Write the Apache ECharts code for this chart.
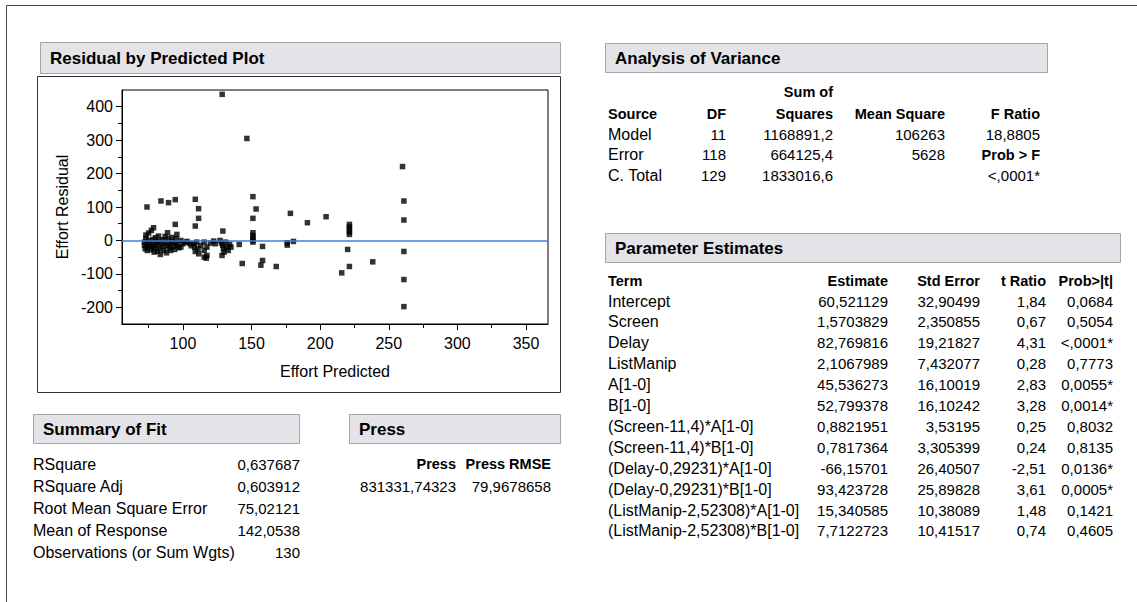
<!DOCTYPE html>
<html>
<head>
<meta charset="utf-8">
<script src="https://cdn.jsdelivr.net/npm/echarts@6/dist/echarts.min.js"></script>
<style>
html,body{margin:0;padding:0;background:#fff;}
#c{width:1137px;height:602px;}
</style>
</head>
<body>
<div id="c"></div>
<script>
// ---- plot data ----
const predicted = [73.8,84,89.5,94.4,109,111.4,111.4,109,94.4,78.6,77,75,73,82.2,88.8,95.6,92,
 72,72,72.5,73,74,74.5,75,76,76.5,77,78,78.5,79,80,80.5,81,81.5,82,83,83.5,84,85,85.5,86,87,88,88.5,89,90,90.5,91,92,93,94,94.5,95,96,97,98.5,98.5,100,101.6,103,105,106,108,108.5,109,110,111,111.5,113,115.5,115.5,115.5,117.5,117.5,117,120,122.4,123.5,
 129.1,127,128,129,129.5,130,128.5,131,132,133,134,135,128.6,141,143.2,146.6,
 151,153.3,151,151,151,151,151,151,158,158,156.8,168,178.3,176,176,180.5,190.7,204.3,
 221.3,221.3,221.3,221.3,221.3,220,221.3,215.7,238.3,
 260,261,261,261,261,261,74,79,87];
const residual = [100,118,113,122,123,95,66,43,48,38,30,22,16,13,23,18,9,
 -5,-15,-25,5,-10,-20,0,-8,-18,-28,3,-12,-22,8,-5,-15,-32,-3,-25,-42,-10,2,-18,-30,-6,-37,-15,5,-22,-10,-30,-3,-17,-27,-8,5,-13,-22,0,-20,-10,-6,-3,-9,-16,-10,-20,-33,-5,-25,-40,-15,-5,-30,-50,-20,-45,-53,-8,-2,-10,
 28,0,-8,-15,-25,-35,-45,-5,-20,-30,-12,-20,437,-12,-69,305,
 131,94,66,23,15,7,0,-5,-18,-60,-74,-78,81,-7,-14,-3,53,71,
 48,40,32,25,18,-27,-78,-97,-64,
 221,118,61,-33,-117,-198,-30,-35,12];
const xTickValues = [100,150,200,250,300,350];
const xMinorValues = [75,125,175,225,275,325];
const yTickValues = [-200,-100,0,100,200,300,400];
const yMinorValues = [-150,-50,50,150,250,350];

// ---- Analysis of Variance ----
const anovaSource = ['Model','Error','C. Total'];
const anovaDF = ['11','118','129'];
const anovaSS = ['1168891,2','664125,4','1833016,6'];
const anovaMS = ['106263','5628',''];
const anovaF = ['18,8805','Prob > F','<,0001*'];

// ---- Parameter Estimates ----
const paramTerm = ['Intercept','Screen','Delay','ListManip','A[1-0]','B[1-0]','(Screen-11,4)*A[1-0]','(Screen-11,4)*B[1-0]','(Delay-0,29231)*A[1-0]','(Delay-0,29231)*B[1-0]','(ListManip-2,52308)*A[1-0]','(ListManip-2,52308)*B[1-0]'];
const paramEstimate = ['60,521129','1,5703829','82,769816','2,1067989','45,536273','52,799378','0,8821951','0,7817364','-66,15701','93,423728','15,340585','7,7122723'];
const paramStdError = ['32,90499','2,350855','19,21827','7,432077','16,10019','16,10242','3,53195','3,305399','26,40507','25,89828','10,38089','10,41517'];
const paramTRatio = ['1,84','0,67','4,31','0,28','2,83','3,28','0,25','0,24','-2,51','3,61','1,48','0,74'];
const paramProb = ['0,0684','0,5054','<,0001*','0,7773','0,0055*','0,0014*','0,8032','0,8135','0,0136*','0,0005*','0,1421','0,4605'];

// ---- Summary of Fit / Press ----
const fitLabels = ['RSquare','RSquare Adj','Root Mean Square Error','Mean of Response','Observations (or Sum Wgts)'];
const fitValues = ['0,637687','0,603912','75,02121','142,0538','130'];
const pressHeaders = ['Press','Press RMSE'];
const pressValues = ['831331,74323','79,9678658'];

const FONT = '"Liberation Sans", Arial, Helvetica, sans-serif';
const XMIN = 55.6, XMAX = 366, YMIN = -250, YMAX = 450;
const LABEL = 16, NUM = 15, HEAD = 14.5, TITLE = 17;

function txt(x, y, s, align, bold, size) {
  return {type:'text', silent:true, style:{text:s, x:x, y:y, align:align||'left', verticalAlign:'middle',
    font:(bold?'bold ':'') + (size||NUM) + 'px ' + FONT, fill:'#000'}};
}
function header(x, y, w, h, s) {
  return [
    {type:'rect', silent:true, shape:{x:x+0.5, y:y+0.5, width:w, height:h}, style:{fill:'#e3e3e8', stroke:'#a4a4a8', lineWidth:1}},
    txt(x+10, y+h/2+0.5, s, 'left', true, TITLE)
  ];
}

const g = [];
// outer border
g.push({type:'polyline', silent:true, shape:{points:[[6.5,602],[6.5,5.5],[1137,5.5]]}, style:{stroke:'#444', lineWidth:1, fill:null}});
// plot panel
g.push({type:'rect', silent:true, z:-1, shape:{x:37.5, y:76.5, width:523, height:316}, style:{fill:'#fff', stroke:'#333', lineWidth:1}});
g.push(...header(40, 42, 520, 31, 'Residual by Predicted Plot'));
g.push(...header(33, 414, 266, 29, 'Summary of Fit'));
g.push(...header(349, 414, 211, 29, 'Press'));
g.push(...header(605, 43, 442, 29, 'Analysis of Variance'));
g.push(...header(605, 233, 515, 29, 'Parameter Estimates'));

// Summary of fit
fitLabels.forEach((l, i) => {
  g.push(txt(33, 464 + 22*i, l, 'left', false, LABEL));
  g.push(txt(300, 464 + 22*i, fitValues[i], 'right', false, NUM));
});
// Press
const pressX = [456, 551];
pressHeaders.forEach((h, i) => {
  g.push(txt(pressX[i], 464, h, 'right', true, HEAD));
  g.push(txt(pressX[i], 486, pressValues[i], 'right', false, NUM));
});
// ANOVA
g.push(txt(833, 92, 'Sum of', 'right', true, HEAD));
const anovaHdr = [['Source',608,'left'],['DF',726,'right'],['Squares',833,'right'],['Mean Square',945,'right'],['F Ratio',1040,'right']];
anovaHdr.forEach(h => g.push(txt(h[1], 114, h[0], h[2], true, HEAD)));
anovaSource.forEach((s, i) => {
  const y = 134 + 20.5*i;
  g.push(txt(608, y, s, 'left', false, LABEL));
  g.push(txt(726, y, anovaDF[i], 'right'));
  g.push(txt(833, y, anovaSS[i], 'right'));
  g.push(txt(945, y, anovaMS[i], 'right'));
  const isHdr = anovaF[i] === 'Prob > F';
  g.push(txt(1040, y, anovaF[i], 'right', isHdr, isHdr ? HEAD : NUM));
});
// Parameter estimates
const paramHdr = [['Term',608,'left'],['Estimate',888,'right'],['Std Error',980,'right'],['t Ratio',1046,'right'],['Prob>|t|',1113,'right']];
paramHdr.forEach(h => g.push(txt(h[1], 281, h[0], h[2], true, HEAD)));
paramTerm.forEach((t, i) => {
  const y = 301 + 20.9*i;
  g.push(txt(608, y, t, 'left', false, LABEL));
  g.push(txt(888, y, paramEstimate[i], 'right'));
  g.push(txt(980, y, paramStdError[i], 'right'));
  g.push(txt(1046, y, paramTRatio[i], 'right'));
  g.push(txt(1113, y, paramProb[i], 'right'));
});

const points = predicted.map((x, i) => [x, residual[i]]);
const axisText = {fontSize:16, color:'#000', fontFamily:FONT};

const chart = echarts.init(document.getElementById('c'), null, {renderer:'svg'});
chart.setOption({
  animation:false,
  backgroundColor:'#fff',
  grid:{left:122, top:90, width:426, height:234, show:true, borderColor:'#000', borderWidth:1, backgroundColor:'transparent'},
  xAxis:[
    {type:'value', min:XMIN, max:XMAX, position:'bottom',
     axisLine:{show:true, onZero:false, lineStyle:{color:'#000', width:1}},
     axisTick:{show:true, customValues:xTickValues, length:6, lineStyle:{color:'#000'}},
     axisLabel:Object.assign({customValues:xTickValues, margin:11}, axisText),
     splitLine:{show:false},
     name:'Effort Predicted', nameLocation:'middle', nameGap:39, nameTextStyle:axisText},
    {type:'value', min:XMIN, max:XMAX, position:'bottom',
     axisLine:{show:false, onZero:false},
     axisTick:{show:true, customValues:xMinorValues, length:4, lineStyle:{color:'#000'}},
     axisLabel:{show:false}, splitLine:{show:false}}
  ],
  yAxis:[
    {type:'value', min:YMIN, max:YMAX, position:'left',
     axisLine:{show:true, onZero:false, lineStyle:{color:'#000', width:1}},
     axisTick:{show:true, customValues:yTickValues, length:6, lineStyle:{color:'#000'}},
     axisLabel:Object.assign({customValues:yTickValues, margin:9}, axisText),
     splitLine:{show:false},
     name:'Effort Residual', nameLocation:'middle', nameGap:52, nameRotate:90, nameTextStyle:axisText},
    {type:'value', min:YMIN, max:YMAX, position:'left',
     axisLine:{show:false, onZero:false},
     axisTick:{show:true, customValues:yMinorValues, length:4, lineStyle:{color:'#000'}},
     axisLabel:{show:false}, splitLine:{show:false}}
  ],
  series:[{
    type:'scatter', xAxisIndex:0, yAxisIndex:0, data:points,
    symbol:'rect', symbolSize:5.5, itemStyle:{color:'#000'}, silent:true,
    markLine:{silent:true, symbol:'none', label:{show:false}, animation:false,
      lineStyle:{color:'#3d7ee6', width:1.5, type:'solid'}, data:[{yAxis:0}]}
  }],
  graphic:{elements:g}
});
</script>
</body>
</html>
